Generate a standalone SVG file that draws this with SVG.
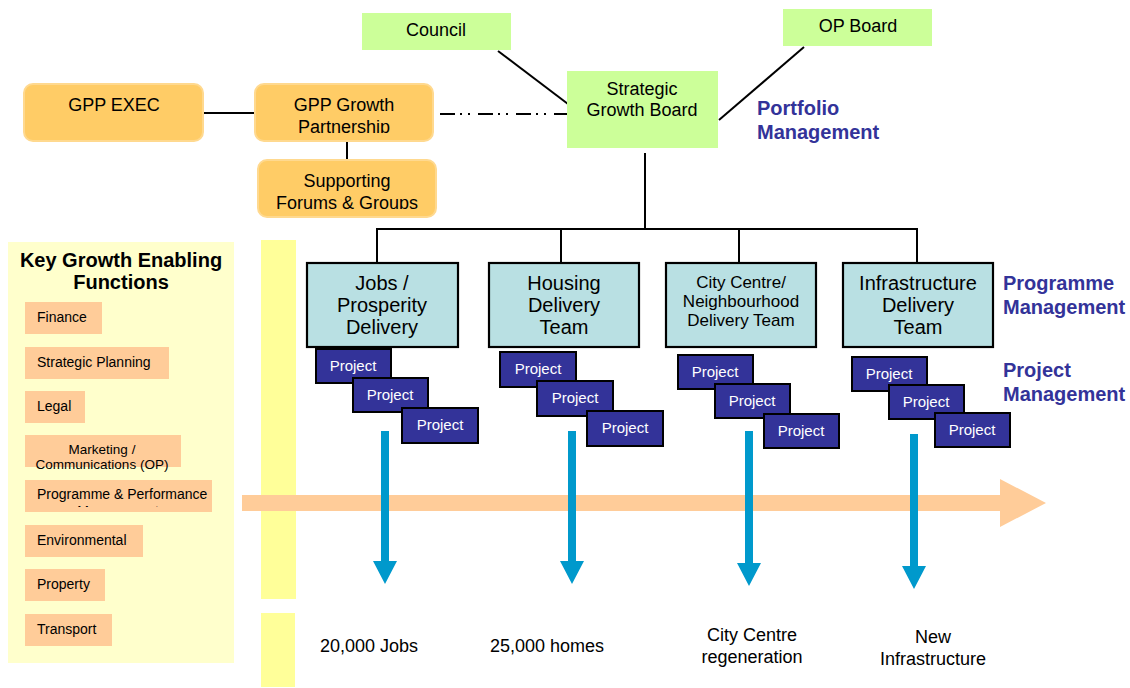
<svg xmlns="http://www.w3.org/2000/svg" width="1130" height="688" viewBox="0 0 1130 688">
<style>
text{font-family:"Liberation Sans",Arial,sans-serif;fill:#000}
.t18{font-size:18px;text-anchor:middle}
.t20{font-size:20px;text-anchor:middle}
.t17{font-size:17px;text-anchor:middle}
.orange{fill:#FFCC66;stroke:#FFD98F;stroke-width:2}
.green{fill:#CCFF99}
.team{fill:#B9E0E3;stroke:#000;stroke-width:2.2}
.proj{fill:#333399;stroke:#000;stroke-width:2}
.ptext{font-size:15px;fill:#fff;text-anchor:middle}
.func{fill:#FFCC99}
.ftext{font-size:14px}
.mgmt{font-size:20px;font-weight:bold;fill:#333399}
.conn{stroke:#000;stroke-width:2;fill:none}
.blue{fill:#0099CC}
.res{font-size:18px;text-anchor:middle}
</style>
<defs>
<clipPath id="cGPP"><rect x="255" y="84" width="180" height="49"/></clipPath>
<clipPath id="cSup"><rect x="258" y="160" width="180" height="49"/></clipPath>
<clipPath id="cProg"><rect x="25" y="480" width="190" height="27"/></clipPath>
</defs>

<rect x="0" y="0" width="1130" height="688" fill="#fff"/>

<!-- background panels -->
<rect x="8" y="242" width="226" height="421" fill="#FFFFCC"/>
<rect x="261" y="240" width="35" height="359" fill="#FFFF99"/>
<rect x="261" y="613" width="34" height="74" fill="#FFFF99"/>

<!-- connectors -->
<g id="connectors">
<line class="conn" x1="203" y1="113" x2="255" y2="113"/>
<line class="conn" x1="347" y1="141" x2="347" y2="160"/>
<line x1="440" y1="114" x2="556" y2="114" stroke="#000" stroke-width="1.8" stroke-dasharray="15 5 2 6 2 8"/>
<line class="conn" x1="555" y1="114" x2="568" y2="114"/>
<line class="conn" x1="498" y1="51" x2="568" y2="104"/>
<line class="conn" x1="804" y1="47" x2="719" y2="120"/>
<line class="conn" x1="645" y1="153" x2="645" y2="229"/>
<line class="conn" x1="376" y1="229" x2="918" y2="229"/>
<line class="conn" x1="377" y1="229" x2="377" y2="263"/>
<line class="conn" x1="561" y1="229" x2="561" y2="263"/>
<line class="conn" x1="739" y1="229" x2="739" y2="263"/>
<line class="conn" x1="917" y1="229" x2="917" y2="263"/>
</g>

<!-- top nodes -->
<g id="council"><rect class="green" x="362" y="13" width="149" height="37"/><text class="t18" x="436" y="36">Council</text></g>
<g id="opboard"><rect class="green" x="783" y="9" width="149" height="37"/><text class="t18" x="858" y="32">OP Board</text></g>
<g id="sgb"><rect class="green" x="567" y="71" width="151" height="77"/><text class="t18" x="642" y="95">Strategic</text><text class="t18" x="642" y="116">Growth Board</text></g>
<g id="gppexec"><rect class="orange" x="24" y="84" width="179" height="57" rx="9"/><text class="t18" x="114" y="111">GPP EXEC</text></g>
<g id="gppgrowth"><rect class="orange" x="255" y="84" width="178" height="57" rx="9"/><g clip-path="url(#cGPP)"><text class="t18" x="344" y="111">GPP Growth</text><text class="t18" x="344" y="133">Partnership</text></g></g>
<g id="supporting"><rect class="orange" x="258" y="160" width="178" height="57" rx="9"/><g clip-path="url(#cSup)"><text class="t18" x="347" y="187">Supporting</text><text class="t18" x="347" y="209">Forums &amp; Groups</text></g></g>

<text class="mgmt" x="757" y="115">Portfolio</text>
<text class="mgmt" x="757" y="139">Management</text>

<!-- left functions -->
<g id="functions">
<text x="121" y="267" style="font-size:20px;font-weight:bold;text-anchor:middle">Key Growth Enabling</text>
<text x="121" y="289" style="font-size:20px;font-weight:bold;text-anchor:middle">Functions</text>
<g id="f-finance"><rect class="func" x="25" y="302" width="77" height="32"/><text class="ftext" x="37" y="322">Finance</text></g>
<g id="f-strategic"><rect class="func" x="25" y="347" width="144" height="32"/><text class="ftext" x="37" y="367">Strategic Planning</text></g>
<g id="f-legal"><rect class="func" x="25" y="391" width="60" height="32"/><text class="ftext" x="37" y="411">Legal</text></g>
<g id="f-marketing"><rect class="func" x="25" y="435" width="156" height="32"/><text x="102" y="454" style="font-size:13.5px;text-anchor:middle">Marketing /</text><text x="102" y="469" style="font-size:13.5px;text-anchor:middle">Communications (OP)</text></g>
<g id="f-programme"><rect class="func" x="25" y="480" width="187" height="32"/><g clip-path="url(#cProg)"><text class="ftext" x="37" y="499">Programme &amp; Performance</text><text class="ftext" x="118" y="516" text-anchor="middle">Management</text></g></g>
<g id="f-env"><rect class="func" x="25" y="525" width="118" height="32"/><text class="ftext" x="37" y="545">Environmental</text></g>
<g id="f-property"><rect class="func" x="25" y="569" width="80" height="32"/><text class="ftext" x="37" y="589">Property</text></g>
<g id="f-transport"><rect class="func" x="25" y="614" width="87" height="32"/><text class="ftext" x="37" y="634">Transport</text></g>
</g>

<!-- teams -->
<g id="team-jobs"><rect class="team" x="307" y="263" width="151" height="84"/><text class="t20" x="382" y="290">Jobs /</text><text class="t20" x="382" y="312">Prosperity</text><text class="t20" x="382" y="334">Delivery</text></g>
<g id="team-housing"><rect class="team" x="489" y="263" width="150" height="84"/><text class="t20" x="564" y="290">Housing</text><text class="t20" x="564" y="312">Delivery</text><text class="t20" x="564" y="334">Team</text></g>
<g id="team-city"><rect class="team" x="666" y="263" width="150" height="84"/><text class="t17" x="741" y="288">City Centre/</text><text class="t17" x="741" y="307">Neighbourhood</text><text class="t17" x="741" y="326">Delivery Team</text></g>
<g id="team-infra"><rect class="team" x="843" y="263" width="150" height="84"/><text class="t20" x="918" y="290">Infrastructure</text><text class="t20" x="918" y="312">Delivery</text><text class="t20" x="918" y="334">Team</text></g>

<text class="mgmt" x="1003" y="290">Programme</text>
<text class="mgmt" x="1003" y="314">Management</text>
<text class="mgmt" x="1003" y="377">Project</text>
<text class="mgmt" x="1003" y="401">Management</text>

<!-- orange arrow -->
<polygon fill="#FFCC99" points="242,495 1000,495 1000,479 1046,503 1000,527 1000,511 242,511"/>

<!-- projects -->
<g id="proj-jobs-1"><rect class="proj" x="316" y="349" width="75" height="34"/><text class="ptext" x="353" y="371">Project</text></g>
<g id="proj-jobs-2"><rect class="proj" x="353" y="378" width="75" height="34"/><text class="ptext" x="390" y="400">Project</text></g>
<g id="proj-jobs-3"><rect class="proj" x="402" y="408" width="76" height="35"/><text class="ptext" x="440" y="430">Project</text></g>
<g id="proj-housing-1"><rect class="proj" x="500" y="352" width="76" height="35"/><text class="ptext" x="538" y="374">Project</text></g>
<g id="proj-housing-2"><rect class="proj" x="537" y="381" width="76" height="35"/><text class="ptext" x="575" y="403">Project</text></g>
<g id="proj-housing-3"><rect class="proj" x="587" y="411" width="76" height="35"/><text class="ptext" x="625" y="433">Project</text></g>
<g id="proj-city-1"><rect class="proj" x="678" y="355" width="75" height="34"/><text class="ptext" x="715" y="377">Project</text></g>
<g id="proj-city-2"><rect class="proj" x="715" y="384" width="75" height="34"/><text class="ptext" x="752" y="406">Project</text></g>
<g id="proj-city-3"><rect class="proj" x="764" y="414" width="75" height="34"/><text class="ptext" x="801" y="436">Project</text></g>
<g id="proj-infra-1"><rect class="proj" x="852" y="357" width="75" height="34"/><text class="ptext" x="889" y="379">Project</text></g>
<g id="proj-infra-2"><rect class="proj" x="889" y="385" width="75" height="34"/><text class="ptext" x="926" y="407">Project</text></g>
<g id="proj-infra-3"><rect class="proj" x="935" y="413" width="75" height="34"/><text class="ptext" x="972" y="435">Project</text></g>

<!-- blue arrows -->
<polygon class="blue" points="381,431 389,431 389,561 397,561 385,584 373,561 381,561"/>
<polygon class="blue" points="568,431 576,431 576,561 584,561 572,584 560,561 568,561"/>
<polygon class="blue" points="745,431 753,431 753,563 761,563 749,586 737,563 745,563"/>
<polygon class="blue" points="910,434 918,434 918,566 926,566 914,589 902,566 910,566"/>

<!-- results -->
<text class="res" x="369" y="652">20,000 Jobs</text>
<text class="res" x="547" y="652">25,000 homes</text>
<text class="res" x="752" y="641">City Centre</text>
<text class="res" x="752" y="663">regeneration</text>
<text class="res" x="933" y="643">New</text>
<text class="res" x="933" y="665">Infrastructure</text>
</svg>
